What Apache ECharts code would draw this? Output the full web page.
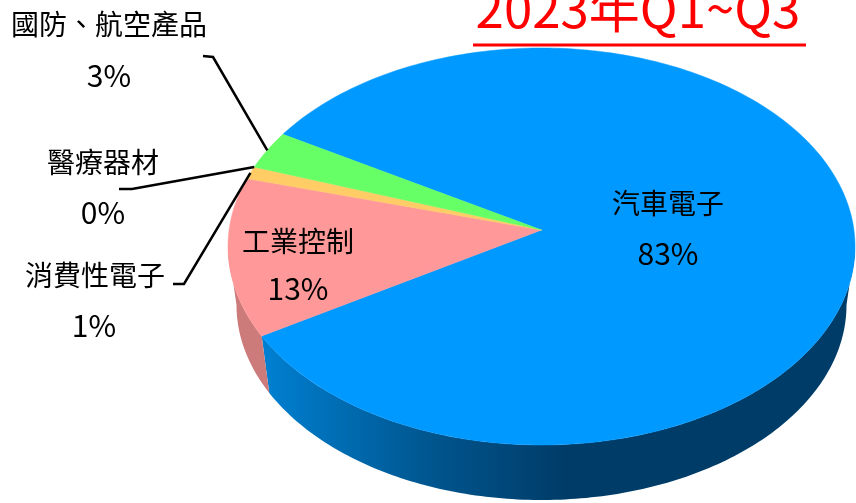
<!DOCTYPE html>
<html>
<head>
<meta charset="utf-8">
<script src="https://cdn.jsdelivr.net/npm/echarts@6/dist/echarts.min.js"></script>
<style>
html,body{margin:0;padding:0;background:#fff;}
#chart{width:856px;height:503px;}
</style>
</head>
<body>
<div id="chart"></div>
<script>
const categories = ["汽車電子", "工業控制", "消費性電子", "醫療器材", "國防、航空產品"];
const shares = [83, 13, 1, 0, 3];
const titleText = "2023年Q1~Q3";

const topColors = ["#0099FF", "#FF9999", "#FFCC66", "#9999FF", "#66FF66"];
const sideColors = [
    {type:"linear", x:262, y:0, x2:565, y2:0, global:true,
     colorStops:[{offset:0, color:"#0080D2"}, {offset:0.55, color:"#00568F"}, {offset:1, color:"#003C68"}]},
    "#CC7A7A", "#CC9E4A", "#7070CC", "#44BB44"
];

// pie geometry (pixels)
const CX = 541.5, CY = 246.5, RX = 313.5, RY = 198.5;
const APEX_Y = 230;
const BCY = 305, BRX = 305, BRY = 195;
const START = -145.6;

// label layout: name centre, value centre, leader elbow (outside labels only)
const labelLayout = [
    {name:[668, 203], value:[668, 254]},
    {name:[298, 241], value:[298, 289]},
    {name:[95, 275], value:[94, 326], line:[[173, 284], [184, 284]]},
    {name:[103, 162], value:[103, 213], line:[[119, 189], [132, 189]]},
    {name:[109, 24], value:[109, 76], line:[[203, 56], [213, 57]]}
];

const FONT = '"Noto Sans CJK TC", "Noto Sans CJK SC", sans-serif';

function sliceRange(i){
    const total = shares.reduce((a, b) => a + b, 0);
    let s = START;
    for(let j=0;j<i;j++){
        s += shares[j] / total * 360;
    }
    return [s, s + shares[i] / total * 360];
}

function topPt(t){
    const r = t * Math.PI / 180;
    return [CX + RX * Math.cos(r), CY + RY * Math.sin(r)];
}

function botPt(t){
    const r = t * Math.PI / 180;
    return [CX + BRX * Math.cos(r), BCY + BRY * Math.sin(r)];
}

function arc(a, b, fn){
    const pts = [];
    const n = Math.max(2, Math.ceil(Math.abs(b - a)));
    for(let k=0;k<=n;k++){
        pts.push(fn(a + (b - a) * k / n));
    }
    return pts;
}

function renderSide(params, api){
    const i = params.dataIndex;
    const [a, b] = sliceRange(i);
    const children = [];
    [[-360, -180], [0, 180], [360, 540]].forEach(([f0, f1]) => {
        const lo = Math.max(a, f0), hi = Math.min(b, f1);
        if(hi > lo){
            const pts = arc(lo, hi, topPt).concat(arc(hi, lo, botPt));
            children.push({
                type:"polygon",
                shape:{points:pts},
                style:{fill:sideColors[i], stroke:null}
            });
        }
    });
    return {type:"group", children:children};
}

function renderTop(params, api){
    const i = params.dataIndex;
    const [a, b] = sliceRange(i);
    const children = [];
    if(b > a){
        const pts = [[CX, APEX_Y]].concat(arc(a, b, topPt));
        children.push({
            type:"polygon",
            shape:{points:pts},
            style:{fill:topColors[i], stroke:topColors[i], lineWidth:0.5}
        });
    }
    const lay = labelLayout[i];
    if(lay.line){
        const edge = topPt((a + b) / 2);
        children.push({
            type:"polyline",
            shape:{points:lay.line.concat([edge])},
            style:{stroke:"#000", lineWidth:2.5, fill:null},
            z2:10
        });
    }
    children.push({
        type:"text",
        x:lay.name[0], y:lay.name[1],
        style:{text:categories[i], fontSize:28, fontFamily:FONT, fill:"#000",
               align:"center", verticalAlign:"middle"},
        z2:20
    });
    children.push({
        type:"text",
        x:lay.value[0], y:lay.value[1],
        style:{text:Math.round(api.value(1)) + "%", fontSize:30, fontFamily:FONT, fill:"#000",
               align:"center", verticalAlign:"middle"},
        z2:20
    });
    return {type:"group", children:children};
}

const chart = echarts.init(document.getElementById("chart"));

const items = shares.map((v, i) => ({name:categories[i], value:[i, v]}));

chart.setOption({
    animation:false,
    graphic:[
        {
            type:"text",
            x:638, y:9,
            style:{text:titleText, fontSize:51, fontFamily:FONT, fill:"#FF0000",
                   align:"center", verticalAlign:"middle"}
        },
        {
            type:"line",
            shape:{x1:473, y1:45, x2:806, y2:45},
            style:{stroke:"#FF0000", lineWidth:3}
        }
    ],
    series:[
        {
            type:"custom",
            coordinateSystem:"none",
            renderItem:renderSide,
            data:items,
            z:1
        },
        {
            type:"custom",
            coordinateSystem:"none",
            renderItem:renderTop,
            data:items,
            z:2
        }
    ]
});
</script>
</body>
</html>
